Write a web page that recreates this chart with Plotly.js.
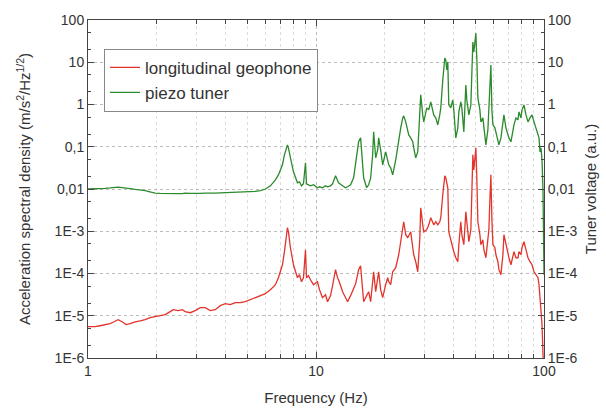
<!DOCTYPE html>
<html>
<head>
<meta charset="utf-8">
<script src="https://cdn.plot.ly/plotly-3.0.1.min.js"></script>
<style>html,body{margin:0;padding:0;background:#fff;}#chart{width:606px;height:410px;}</style>
</head>
<body>
<div id="chart"></div>
<script>
// Frequency (Hz)
var frequency = [
1.000,1.073,1.129,1.188,1.250,1.301,1.355,1.411,1.469,1.530,
1.610,1.693,1.781,1.873,1.970,2.072,2.180,2.293,2.364,2.486,
2.589,2.669,2.807,2.953,3.106,3.267,3.437,3.615,3.803,4.000,
4.208,4.426,4.656,4.897,5.151,5.419,5.700,5.995,6.310,6.637,
6.842,6.982,7.125,7.271,7.344,7.419,7.495,7.571,7.648,7.726,
7.964,8.293,8.463,8.636,8.812,8.993,9.084,9.270,9.460,9.750,
10.15,10.36,10.68,11.01,11.24,11.58,11.82,12.18,12.43,12.56,
13.08,13.48,13.76,14.18,14.62,14.92,15.22,15.38,15.69,16.01,
16.18,16.68,17.02,17.37,17.72,17.90,18.27,18.64,18.83,19.21,
19.61,20.21,20.63,20.84,21.26,21.70,22.37,23.06,23.53,24.01,
24.25,24.75,25.25,25.51,26.03,26.57,26.83,27.38,27.94,28.51,
28.80,29.39,29.69,30.60,31.23,31.86,32.85,33.52,34.20,34.90,
35.26,35.98,36.35,36.72,37.09,37.47,37.85,38.23,39.01,39.81,
40.22,41.04,41.88,42.31,43.17,43.61,44.50,45.41,45.87,46.81,
47.77,48.26,48.75,49.24,49.74,50.25,50.76,51.28,52.33,52.86,
53.94,54.49,55.60,56.74,57.32,57.90,58.49,59.08,59.69,60.91,
61.53,62.78,63.42,64.72,66.04,66.72,68.08,69.47,70.18,71.62,
73.08,73.83,75.34,76.88,77.66,79.25,80.05,81.69,83.36,85.07,
86.81,88.58,90.40,92.24,94.13,95.09,96.06,97.03,98.02,99.02,
100.0];

// Longitudinal geophone, acceleration spectral density (m/s^2/Hz^1/2)
var geophone = [
5.5e-6,5.5e-6,5.8e-6,6.2e-6,6.5e-6,7.2e-6,8.1e-6,7.2e-6,6.2e-6,6.5e-6,
7.2e-6,7.6e-6,8.1e-6,9.0e-6,9.5e-6,1.0e-5,1.06e-5,1.25e-5,1.39e-5,1.32e-5,
1.39e-5,1.25e-5,1.18e-5,1.32e-5,1.55e-5,1.55e-5,1.32e-5,1.39e-5,1.73e-5,1.93e-5,
1.83e-5,2.04e-5,2.04e-5,2.15e-5,2.4e-5,2.68e-5,2.99e-5,3.33e-5,4.14e-5,5.43e-5,
7.95e-5,1.10e-4,1.61e-4,3.28e-4,4.8e-4,8.3e-4,1.21e-3,9.7e-4,6.3e-4,4.07e-4,
1.61e-4,7.95e-5,9.4e-5,6.39e-5,7.95e-5,3.66e-4,7.95e-5,8.9e-5,7.13e-5,5.43e-5,
6.39e-5,4.14e-5,2.68e-5,3.15e-5,2.15e-5,2.99e-5,5.15e-5,1.23e-4,7.95e-5,7.13e-5,
3.71e-5,2.68e-5,2.15e-5,2.99e-5,4.62e-5,5.73e-5,9.4e-5,1.23e-4,1.53e-4,5.43e-5,
2.15e-5,2.99e-5,3.71e-5,2.15e-5,5.43e-5,1.10e-4,3.71e-5,7.13e-5,1.10e-4,4.14e-5,
2.68e-5,5.43e-5,7.95e-5,6.39e-5,5.43e-5,1.10e-4,1.37e-4,2.78e-4,5.65e-4,1.42e-3,
1.68e-3,8.3e-4,7.0e-4,7.8e-4,9.7e-4,4.07e-4,2.78e-4,1.9e-4,1.10e-4,6.3e-4,
3.6e-3,1.42e-3,9.7e-4,1.09e-3,1.42e-3,2.09e-3,1.42e-3,1.68e-3,1.42e-3,1.68e-3,
2.09e-3,7.3e-3,1.65e-2,2.05e-2,1.84e-2,1.26e-2,1.07e-2,9.7e-4,6.3e-4,3.66e-4,
3.28e-4,2.36e-4,1.9e-4,4.8e-4,1.68e-3,8.3e-4,4.8e-4,2.89e-3,1.42e-3,5.65e-4,
1.09e-3,5.56e-3,6.44e-2,2.84e-2,4.9e-2,9.4e-2,1.65e-2,1.68e-3,8.3e-4,4.8e-4,
6.3e-4,3.66e-4,2.36e-4,5.65e-4,1.09e-3,5.56e-3,2.16e-2,1.87e-3,4.8e-4,4.07e-4,
2.78e-4,1.9e-4,1.23e-4,9.4e-5,2.78e-4,8.3e-4,4.8e-4,3.28e-4,2.36e-4,1.61e-4,
2.78e-4,3.28e-4,2.36e-4,2.36e-4,3.28e-4,2.78e-4,4.07e-4,5.65e-4,3.66e-4,2.36e-4,
1.9e-4,1.61e-4,1.10e-4,9.4e-5,7.95e-5,5.43e-5,2.68e-5,1.83e-5,6.2e-6,1.2e-6,
3e-7];

// Piezo tuner voltage (a.u.)
var piezo = [
0.0100,0.0100,0.0101,0.0104,0.0106,0.0109,0.0111,0.0108,0.0103,0.0102,
0.0098,0.0095,0.0092,0.0085,0.0080,0.0079,0.0078,0.0078,0.0077,0.0078,
0.0078,0.0080,0.0079,0.0078,0.0079,0.0080,0.0079,0.0080,0.0081,0.0082,
0.0081,0.0082,0.0083,0.0083,0.0085,0.0088,0.0092,0.0100,0.0119,0.0165,
0.0216,0.0284,0.0373,0.0644,0.0757,0.094,0.111,0.094,0.0679,0.0547,
0.0255,0.014,0.0148,0.0119,0.0133,0.0416,0.0133,0.0126,0.0119,0.0126,
0.0107,0.0113,0.0107,0.0119,0.0113,0.0119,0.0133,0.0205,0.0148,0.014,
0.0119,0.0107,0.0113,0.0126,0.0184,0.0373,0.0845,0.131,0.162,0.0373,
0.0184,0.0107,0.0126,0.0184,0.0644,0.225,0.0547,0.0845,0.162,0.0845,
0.0373,0.0757,0.049,0.0373,0.0317,0.0216,0.049,0.162,0.28,0.482,
0.537,0.388,0.251,0.191,0.162,0.131,0.094,0.0547,0.0757,0.432,
1.69,0.567,0.388,0.832,0.746,1.15,0.567,0.482,0.329,0.567,
0.832,3.8,7.3,12.6,11.3,6.6,10.2,0.978,0.832,1.28,
0.746,0.162,0.28,0.669,1.15,0.832,0.225,2.9,1.28,0.567,
0.978,5.0,30.2,17.5,25.6,49,11.3,1.43,0.746,0.388,
0.482,0.251,0.111,0.251,0.978,3.8,8.6,0.746,0.329,0.28,
0.225,0.146,0.111,0.162,0.329,0.567,0.28,0.191,0.162,0.131,
0.251,0.329,0.482,0.432,0.669,0.482,0.746,0.978,0.567,0.388,
0.482,0.567,0.388,0.28,0.191,0.162,0.0757,0.094,0.049,0.0086,
9.4e-5];

var yTickVals = [1e-6,1e-5,1e-4,1e-3,0.01,0.1,1,10,100];
var yTickText = ["1E-6","1E-5","1E-4","1E-3","0,01","0,1","1","10","100"];
var xTickVals = [1,10,100];
var xTickText = ["1","10","100"];

var axisColor = '#444';
var fontFam = 'Liberation Sans, Arial, sans-serif';

var traces = [
  {x: frequency, y: geophone, type: 'scatter', mode: 'lines', name: 'longitudinal geophone',
   line: {color: '#e3342c', width: 1.3}, xaxis: 'x', yaxis: 'y'},
  {x: frequency, y: piezo, type: 'scatter', mode: 'lines', name: 'piezo tuner',
   line: {color: '#2b8a2b', width: 1.3}, xaxis: 'x', yaxis: 'y2'}
];

var baseY = {
  type: 'log', range: [-6, 2], tickvals: yTickVals, ticktext: yTickText,
  ticks: 'inside', ticklen: 6, tickcolor: axisColor, showline: true, linecolor: axisColor, linewidth: 1,
  tickfont: {size: 14, color: '#333', family: fontFam},
  minor: {ticks: 'inside', ticklen: 3, tickcolor: axisColor, showgrid: false},
  zeroline: false
};

var layout = {
  width: 606, height: 410,
  margin: {l: 88, r: 62, t: 20, b: 52},
  paper_bgcolor: '#fff', plot_bgcolor: '#fff',
  font: {family: fontFam, color: '#333', size: 14},
  showlegend: true,
  legend: {x: 0.035, y: 0.915, xanchor: 'left', yanchor: 'top', bgcolor: '#fff',
           bordercolor: '#888', borderwidth: 1, font: {size: 17, color: '#333'},
           tracegroupgap: 0, itemwidth: 30},
  xaxis: {
    type: 'log', range: [0, 2], tickvals: xTickVals, ticktext: xTickText,
    ticks: 'inside', ticklen: 6, tickcolor: axisColor, showline: true, linecolor: axisColor, mirror: 'ticks',
    showgrid: true, gridcolor: '#bbb', griddash: 'dot', gridwidth: 1,
    tickfont: {size: 14, color: '#333'},
    minor: {ticks: 'inside', ticklen: 4, tickcolor: axisColor, showgrid: true, gridcolor: '#ddd', griddash: 'dot', dtick: 'D1'},
    title: {text: 'Frequency (Hz)', font: {size: 15, color: '#333'}, standoff: 14},
    zeroline: false
  },
  yaxis: Object.assign({}, baseY, {
    side: 'left', showgrid: true, gridcolor: '#bbb', griddash: 'dot',
    title: {text: 'Acceleration spectral density (m/s<sup>2</sup>/Hz<sup>1/2</sup>)', font: {size: 15, color: '#333'}, standoff: 20}
  }),
  yaxis2: Object.assign({}, baseY, {
    side: 'right', overlaying: 'y', showgrid: false,
    title: {text: 'Tuner voltage (a.u.)', font: {size: 15, color: '#333'}, standoff: 8}
  })
};

Plotly.newPlot('chart', traces, layout, {displayModeBar: false, staticPlot: true});
</script>
</body>
</html>
